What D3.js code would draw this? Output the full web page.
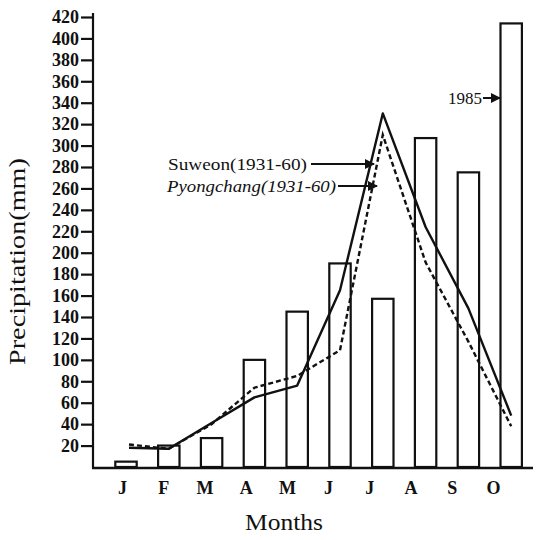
<!DOCTYPE html>
<html>
<head>
<meta charset="utf-8">
<script src="https://cdn.jsdelivr.net/npm/d3@7"></script>
<style>
  body { margin: 0; background: #fff; }
  svg text { font-family: "Liberation Serif", "DejaVu Serif", "Times New Roman", serif !important; fill: #111; }
</style>
</head>
<body>
<svg id="chart" width="541" height="540"></svg>
<script>
// data
var months = ["Jan","Feb","Mar","Apr","May","Jun","Jul","Aug","Sep","Oct"];
var monthLabels = ["J","F","M","A","M","J","J","A","S","O"];
var rain1985 = [5, 20, 27, 100, 145, 190, 157, 307, 275, 414];
var suweon = [18, 17, 41, 65, 76, 165, 330, 224, 148, 48];
var pyongchang = [21, 17, 40, 74, 85, 109, 310, 191, 117, 38];
var yTicks = [20,40,60,80,100,120,140,160,180,200,220,240,260,280,300,320,340,360,380,400,420];

var svg = d3.select("#chart");

var y = d3.scaleLinear().domain([0, 420]).range([467, 17]);
// bars sit a bit right of the month letters in the original
var xBar = d3.scaleBand().domain(months).range([104.6, 532.6]).paddingInner(0.5).paddingOuter(0.25);
var xLab = d3.scalePoint().domain(months).range([122, 493]);

// bars
svg.selectAll("rect.bar")
  .data(rain1985)
  .join("rect")
  .attr("class", "bar")
  .attr("x", function (d, i) { return xBar(months[i]); })
  .attr("y", function (d) { return y(d); })
  .attr("width", xBar.bandwidth())
  .attr("height", function (d) { return y(0) - y(d); })
  .style("fill", "#fff")
  .style("stroke", "#111")
  .style("stroke-width", 2.2);

// lines
var line = d3.line()
  .x(function (d, i) { return xBar(months[i]) + xBar.bandwidth() / 2 + (i == 0 ? 3 : 0); })
  .y(function (d) { return y(d); });

svg.append("path")
  .attr("d", line(suweon))
  .style("fill", "none")
  .style("stroke", "#111")
  .style("stroke-width", 2.4)
  .style("stroke-linejoin", "round");

svg.append("path")
  .attr("d", line(pyongchang))
  .style("fill", "none")
  .style("stroke", "#111")
  .style("stroke-width", 2.4)
  .style("stroke-dasharray", "5,3");

// y axis
var yAxis = svg.append("g")
  .attr("transform", "translate(93,0)")
  .call(d3.axisLeft(y).tickValues(yTicks).tickSize(12).tickSizeOuter(0).tickPadding(2));
yAxis.attr("font-family", null);
yAxis.select(".domain").attr("d", "M0,13V" + (y(0) + 1)).style("stroke", "#111").style("stroke-width", 2.2);
yAxis.selectAll(".tick line").style("stroke", "#111").style("stroke-width", 2.2);
yAxis.selectAll(".tick text")
  .style("font-size", "18px")
  .style("font-weight", "bold")
  .style("fill", "#111");

// x axis baseline
svg.append("line")
  .attr("x1", 92).attr("x2", 533)
  .attr("y1", y(0) + 1).attr("y2", y(0) + 1)
  .style("stroke", "#111")
  .style("stroke-width", 2.4);

var xAxis = svg.append("g")
  .attr("transform", "translate(0," + (y(0) + 11) + ")")
  .call(d3.axisBottom(xLab).tickSize(0).tickFormat(function (d, i) { return monthLabels[i]; }));
xAxis.attr("font-family", null);
xAxis.select(".domain").remove();
xAxis.selectAll(".tick text")
  .style("font-size", "18px")
  .style("font-weight", "bold")
  .style("fill", "#111");

// axis titles
svg.append("text")
  .attr("x", 245).attr("y", 530)
  .attr("textLength", 78)
  .attr("lengthAdjust", "spacingAndGlyphs")
  .style("font-size", "23px")
  .text("Months");

svg.append("text")
  .attr("transform", "translate(25,365) rotate(-90)")
  .attr("textLength", 207)
  .attr("lengthAdjust", "spacingAndGlyphs")
  .style("font-size", "23px")
  .text("Precipitation(mm)");

// annotations with arrows
var defs = svg.append("defs");
defs.append("marker")
  .attr("id", "arrow")
  .attr("viewBox", "0 0 10 10")
  .attr("refX", 9).attr("refY", 5)
  .attr("markerWidth", 5).attr("markerHeight", 5)
  .attr("orient", "auto")
  .append("path")
  .attr("d", "M0,0L10,5L0,10z")
  .style("fill", "#111");

svg.append("text")
  .attr("x", 168).attr("y", 170)
  .attr("textLength", 139)
  .attr("lengthAdjust", "spacingAndGlyphs")
  .style("font-size", "17px")
  .text("Suweon(1931-60)");
svg.append("line")
  .attr("x1", 311).attr("y1", 164).attr("x2", 374).attr("y2", 164)
  .style("stroke", "#111").style("stroke-width", 2)
  .attr("marker-end", "url(#arrow)");

svg.append("text")
  .attr("x", 167).attr("y", 192)
  .attr("textLength", 169)
  .attr("lengthAdjust", "spacingAndGlyphs")
  .style("font-size", "17px")
  .style("font-style", "italic")
  .text("Pyongchang(1931-60)");
svg.append("line")
  .attr("x1", 338).attr("y1", 186).attr("x2", 377).attr("y2", 186)
  .style("stroke", "#111").style("stroke-width", 2)
  .attr("marker-end", "url(#arrow)");

svg.append("text")
  .attr("x", 448).attr("y", 104)
  .style("font-size", "17px")
  .text("1985");
svg.append("line")
  .attr("x1", 483).attr("y1", 98).attr("x2", 500).attr("y2", 98)
  .style("stroke", "#111").style("stroke-width", 2)
  .attr("marker-end", "url(#arrow)");
</script>
</body>
</html>
